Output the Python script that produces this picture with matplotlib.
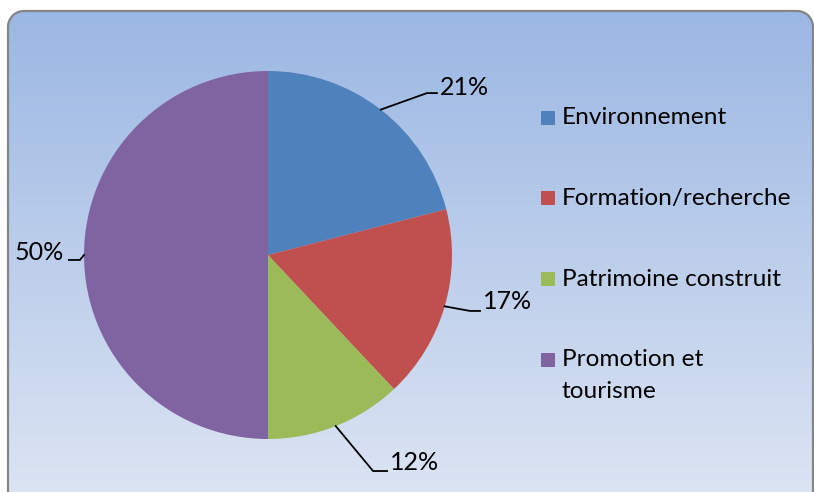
import matplotlib

matplotlib.use("Agg")

import matplotlib.pyplot as plt
import numpy as np
from matplotlib.patches import FancyBboxPatch, Rectangle

categories = ["Environnement", "Formation/recherche", "Patrimoine construit", "Promotion et\ntourisme"]
shares = [21, 17, 12, 50]
pct_labels = ["21%", "17%", "12%", "50%"]
colors = ["#4F81BD", "#C0504D", "#9BBB59", "#8064A2"]

# label layout in pie units (radius = 1): elbow point, horizontal stub end, text anchor
elbows = [(0.864, 0.880), (1.098, -0.304), (0.571, -1.174), (-1.022, -0.027)]
stubs = [(0.918, 0.880), (1.152, -0.304), (0.647, -1.174), (-1.082, -0.027)]
text_pos = [(0.935, 0.913), (1.170, -0.255), (0.665, -1.130), (-1.109, 0.016)]
text_ha = ["left", "left", "left", "right"]

W, H = 814, 492
plt.rcParams["font.family"] = ["Lato", "DejaVu Sans"]

fig = plt.figure(figsize=(W / 100, H / 100), dpi=100)
fig.patch.set_facecolor("white")

bg = fig.add_axes([0, 0, 1, 1])
bg.set_xlim(0, W)
bg.set_ylim(H, 0)
bg.axis("off")

# rounded chart-area frame with vertical gradient fill
x0, y0, x1, y1, rr = 8, 11, 813, 502, 16
box = FancyBboxPatch((x0, y0), x1 - x0, y1 - y0, boxstyle=f"round,pad=0,rounding_size={rr}",
                     facecolor="none", edgecolor="none")
bg.add_patch(box)
grad = np.linspace(0, 1, 256).reshape(-1, 1)
top = np.array([0x9B, 0xB7, 0xE3]) / 255
bot = np.array([0xDD, 0xE5, 0xF3]) / 255
img = top + (bot - top) * grad[..., None]
im = bg.imshow(img, extent=(x0, x1, y1, y0), aspect="auto", zorder=1)
im.set_clip_path(box)

# frame outline: left side, top corners, right side (bottom runs off the canvas)
t = np.linspace(np.pi, 1.5 * np.pi, 20)
left_arc_x, left_arc_y = x0 + rr + rr * np.cos(t), y0 + rr + rr * np.sin(t)
t2 = np.linspace(1.5 * np.pi, 2 * np.pi, 20)
right_arc_x, right_arc_y = x1 - rr + rr * np.cos(t2), y0 + rr + rr * np.sin(t2)
frame_x = np.concatenate([[x0], left_arc_x, right_arc_x, [x1]])
frame_y = np.concatenate([[H + 5], left_arc_y, right_arc_y, [H + 5]])
bg.plot(frame_x, frame_y, color="#858585", linewidth=1.6, zorder=3, clip_on=False)

# legend
legend_y = [118, 198, 279, 360]
for cat, col, y in zip(categories, colors, legend_y):
    bg.add_patch(Rectangle((541, y - 7), 14, 14, facecolor=col, edgecolor="none", zorder=4))
    for i, line in enumerate(cat.split("\n")):
        bg.text(562, y + i * 32, line, fontsize=17.6, va="center", ha="left",
                color="black", zorder=4)

# pie
cx, cy, r = 268, 255, 184
ax = fig.add_axes([(cx - r) / W, (H - cy - r) / H, 2 * r / W, 2 * r / H])
wedges, _ = ax.pie(shares, colors=colors, startangle=90, counterclock=False,
                   radius=1, wedgeprops=dict(linewidth=0))
ax.set_xlim(-1, 1)
ax.set_ylim(-1, 1)
ax.axis("off")

for w, lab, el, st, tp, ha in zip(wedges, pct_labels, elbows, stubs, text_pos, text_ha):
    mid = np.deg2rad((w.theta1 + w.theta2) / 2)
    ex, ey = np.cos(mid), np.sin(mid)
    ax.plot([ex, el[0], st[0]], [ey, el[1], st[1]], color="black", linewidth=1.3,
            clip_on=False, zorder=5, solid_joinstyle="miter")
    ax.text(tp[0], tp[1], lab, fontsize=18, ha=ha, va="center", clip_on=False, zorder=5)

fig.savefig("out.png", dpi=100)
